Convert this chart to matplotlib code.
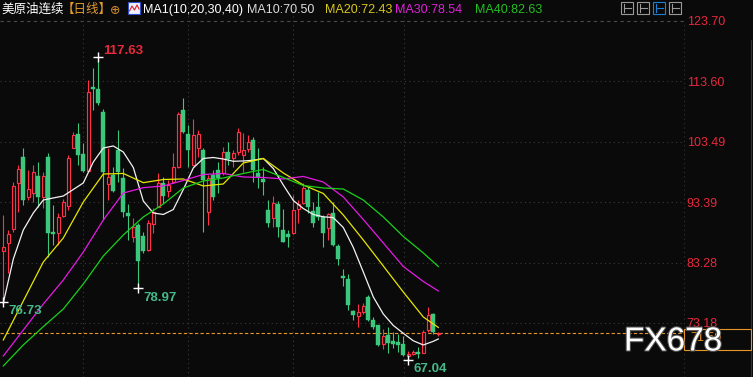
import numpy as np
import matplotlib
matplotlib.use("Agg")
import matplotlib.pyplot as plt
from matplotlib.patches import Rectangle
from matplotlib.lines import Line2D
import matplotlib.patheffects as pe

# 美原油连续 日线, values
opens = [85.27, 86.51, 88.85, 96.55, 101.00, 94.21, 94.97, 97.77, 94.21, 101.00,
         88.45, 88.18, 91.08, 92.80, 102.40, 104.80, 101.45, 98.66, 112.61, 112.27,
         108.48, 96.43, 97.94, 102.12, 97.38, 91.53, 87.61, 89.57, 87.73, 85.39,
         89.74, 92.63, 96.60, 95.31, 96.81, 99.32, 108.81, 104.80, 99.61, 102.45,
         102.12, 91.75, 97.94, 98.77, 98.27, 101.78, 100.78, 101.83, 101.28, 102.24,
         103.79, 98.32, 97.27, 92.08, 90.69, 93.08, 88.73, 88.07, 88.18, 92.20,
         93.20, 95.43, 91.96, 92.53, 90.86, 89.12, 91.58, 86.01, 80.99, 80.59,
         75.18, 74.30, 75.02, 77.53, 73.73, 72.79, 69.61, 71.12, 70.16, 70.00,
         69.61, 67.60, 68.04, 68.32, 68.16, 71.95, 74.63, 71.29]
highs = [91.24, 88.73, 96.81, 99.61, 102.40, 98.77, 99.61, 100.16, 98.49, 101.57,
         92.92, 91.53, 93.92, 101.28, 105.18, 106.59, 103.24, 113.83, 115.79, 117.63,
         108.98, 102.45, 99.32, 105.46, 99.06, 93.08, 90.69, 89.96, 88.45, 90.41,
         92.36, 98.22, 97.65, 97.10, 101.57, 108.53, 110.77, 106.30, 107.25, 105.46,
         102.40, 97.94, 98.77, 100.16, 102.62, 103.46, 102.12, 105.80, 104.96, 104.63,
         104.34, 102.45, 99.27, 93.75, 94.42, 93.64, 92.25, 88.73, 94.59, 93.75,
         96.65, 95.98, 93.47, 95.14, 91.24, 91.58, 93.42, 86.44, 82.26, 81.42,
         75.30, 76.40, 76.52, 77.81, 74.18, 72.85, 72.22, 72.51, 71.67, 71.39,
         70.95, 68.49, 68.71, 69.16, 72.05, 75.85, 74.85, 71.67]
lows = [76.73, 81.54, 88.45, 91.80, 92.92, 93.75, 93.47, 92.63, 92.36, 84.27,
        86.22, 86.22, 90.96, 92.08, 102.40, 99.61, 98.49, 98.49, 108.81, 109.65,
        90.41, 93.75, 95.14, 96.81, 90.96, 87.06, 86.78, 78.97, 84.84, 85.27,
        88.18, 92.50, 93.20, 94.31, 96.55, 99.06, 105.01, 99.22, 99.44, 100.90,
        88.45, 89.57, 93.75, 94.92, 97.94, 99.61, 99.27, 101.28, 98.44, 101.78,
        96.81, 95.76, 94.59, 89.29, 89.29, 87.61, 86.70, 85.94, 88.10, 89.91,
        93.08, 91.53, 89.29, 90.41, 85.84, 87.11, 86.10, 82.83, 79.31, 75.30,
        73.73, 72.51, 74.73, 73.51, 72.22, 69.28, 68.88, 68.16, 69.04, 68.32,
        67.60, 67.04, 67.77, 67.37, 68.10, 71.67, 71.29, 70.95]
closes = [85.81, 88.01, 96.10, 98.94, 93.75, 95.54, 98.49, 94.31, 97.77, 88.28,
          88.01, 90.86, 93.37, 100.83, 104.63, 101.28, 98.66, 111.87, 112.27, 110.03,
          98.44, 97.65, 95.31, 98.49, 91.80, 91.13, 89.19, 83.60, 85.27, 89.96,
          91.75, 96.65, 94.42, 96.26, 99.22, 108.14, 105.18, 102.12, 104.63, 104.74,
          97.10, 97.43, 94.31, 97.43, 101.78, 100.61, 101.62, 105.18, 102.12, 103.51,
          98.77, 97.55, 96.76, 89.96, 93.20, 89.19, 86.78, 87.51, 92.08, 93.08,
          95.71, 92.63, 89.96, 90.96, 88.28, 91.36, 86.17, 83.93, 80.75, 76.14,
          74.46, 75.02, 75.97, 73.73, 72.51, 69.44, 70.95, 69.83, 69.71, 69.44,
          67.77, 68.04, 68.32, 67.94, 71.67, 74.46, 71.67, 71.50]

# MA10 every 2 candles
ma10_idx = list(range(0, 88, 2)) + [87]
ma10 = [76.52, 83.88, 88.73, 91.58, 93.75, 94.09, 94.42, 95.51, 96.60, 100.11,
        102.45, 102.79, 101.78, 99.19, 93.59, 91.58, 91.33, 92.16, 95.51, 99.11,
        100.70, 100.86, 100.61, 100.23, 100.28, 100.40, 100.70, 99.02, 96.26, 93.67,
        92.33, 91.33, 90.94, 90.81, 89.15, 85.81, 81.71, 77.53, 74.68, 72.76,
        71.45, 70.20, 69.50, 70.11, 70.50]

# the slower averages read every 4 candles
ma_idx = list(range(0, 88, 4)) + [87]
ma20 = [70.33, 76.86, 83.38, 87.40, 93.42, 98.10, 98.19, 96.65, 97.18, 97.27, 96.10, 96.43,
        99.94, 100.70, 98.27, 96.26, 94.84, 91.24, 87.06, 82.71, 78.36, 74.18, 72.43]
ma30 = [67.65, 72.00, 76.35, 80.37, 85.05, 90.41, 94.92, 95.81, 96.10, 97.02, 98.02, 98.19,
        97.60, 97.52, 97.27, 97.69, 96.76, 94.26, 90.49, 86.56, 82.63, 80.12, 78.54]
ma40 = [65.98, 69.50, 72.56, 75.52, 79.70, 84.38, 87.90, 90.91, 93.08, 95.76, 96.93, 97.43,
        98.19, 98.86, 97.52, 96.18, 95.76, 95.59, 93.75, 90.91, 87.65, 84.89, 82.63]

price_ticks = [123.70, 113.60, 103.49, 93.39, 83.28, 73.18]
month_lines = [15.9, 37.0, 58.0, 80.1]

BG = "#0a0a0a"
RED = "#ff3048"
GREEN = "#3cc87c"
W, H = 753, 377

plt.rcParams['font.family'] = ['Liberation Sans', 'Noto Sans CJK SC', 'DejaVu Sans']

fig = plt.figure(figsize=(W / 100, H / 100), dpi=100, facecolor=BG)
ax = fig.add_axes([0, 0, 684 / W, 1], facecolor=BG)
ax.set_xlim(-0.66, 136.14)
ax.set_ylim(64.14, 127.21)
for s in ax.spines.values():
    s.set_visible(False)
ax.set_xticks([])
ax.set_yticks(price_ticks)
ax.set_yticklabels([f"{v:.2f}" for v in price_ticks])
ax.yaxis.tick_right()
ax.tick_params(axis='y', length=0, pad=2, labelcolor="#e8283c", labelsize=9)

# grid
ax.axhline(price_ticks[0], color="#4a4a4a", lw=0.8, ls=(0, (3, 3)), zorder=1)
for p in price_ticks[1:]:
    ax.axhline(p, color="#3a3a3a", lw=0.8, ls=(0, (1, 3)), zorder=1)
for m in month_lines:
    ax.axvline(m, color="#3a3a3a", lw=0.8, ls=(0, (1, 3)), zorder=1)

# candles
for i in range(len(closes)):
    o, h, l, c = opens[i], highs[i], lows[i], closes[i]
    up = c >= o
    col = RED if up else GREEN
    ax.vlines(i, l, h, color=col, lw=0.8, zorder=3)
    bottom = min(o, c)
    height = max(abs(c - o), 0.15)
    if up:
        ax.add_patch(Rectangle((i - 0.3, bottom), 0.6, height, facecolor=BG,
                               edgecolor=col, lw=0.85, zorder=4))
    else:
        ax.add_patch(Rectangle((i - 0.37, bottom), 0.74, height, facecolor=col,
                               edgecolor=col, lw=0.3, zorder=4))

# moving averages
ax.plot(ma10_idx, ma10, color="#f2f2f2", lw=0.9, zorder=5)
ax.plot(ma_idx, ma20, color="#e6e600", lw=0.9, zorder=5)
ax.plot(ma_idx, ma30, color="#e619e6", lw=0.9, zorder=5)
ax.plot(ma_idx, ma40, color="#19d219", lw=0.9, zorder=5)

# last price line
ax.axhline(closes[-1], color="#e8962a", lw=0.8, ls=(0, (3, 2)), zorder=2)

# high / low markers
hi = int(np.argmax(highs))
marks = [(hi, highs[hi], "#e8283c", 6.6)]
for j in [0, 27, int(np.argmin(lows))]:
    marks.append((j, lows[j], "#44b98c", -9.6))
for j, v, col, dy in marks:
    ax.plot(j, v, marker='+', ms=7, mew=1, color="white", zorder=6)
    ax.annotate(f"{v:.2f}", (j, v), xytext=(5, dy), textcoords="offset pixels",
                color=col, fontsize=9.5, fontweight="bold", va="center", ha="left",
                zorder=7)


def fx(x):
    return x / W


def fy(y):
    return 1 - y / H


# header
hdr = 9.0
fig.text(fx(1.5), fy(10), "美原油连续", color="white", fontsize=9, va="center")
fig.text(fx(61.5), fy(10), "【日线】", color="#e09a30", fontsize=9, va="center")
fig.text(fx(110), fy(10.5), "⊕", color="#d08a30", fontsize=9, va="center",
         family="DejaVu Sans")
fig.add_artist(Rectangle((fx(128), fy(14)), 12 / W, 12 / H, transform=fig.transFigure,
                         facecolor="#f0f0ff", edgecolor="#3050d0", lw=0.8))
fig.add_artist(Line2D([fx(129.5), fx(132), fx(134.5), fx(137), fx(139)],
                      [fy(11), fy(6), fy(10), fy(5), fy(9)], transform=fig.transFigure,
                      color="#e02020", lw=0.8))
fig.text(fx(142.5), fy(10), "MA1(10,20,30,40)", color="white", fontsize=hdr, va="center")
fig.text(fx(247), fy(10), "MA10:70.50", color="#dcdcdc", fontsize=hdr, va="center")
fig.text(fx(325), fy(10), "MA20:72.43", color="#d8c81c", fontsize=hdr, va="center")
fig.text(fx(395), fy(10), "MA30:78.54", color="#e020d8", fontsize=hdr, va="center")
fig.text(fx(475), fy(10), "MA40:82.63", color="#22c022", fontsize=hdr, va="center")

# toolbar buttons (top right)
for k, x0 in enumerate([620.7, 636.7, 652.7, 668.7]):
    ec = "#1e7fd6" if k == 2 else "#9a9a9a"
    fig.add_artist(Rectangle((fx(x0), fy(14)), 12.5 / W, 12.3 / H, transform=fig.transFigure,
                             facecolor=BG, edgecolor=ec, lw=0.8))
    fig.add_artist(Line2D([fx(x0 + 3), fx(x0 + 3)], [fy(11.5), fy(4)],
                          transform=fig.transFigure, color=ec, lw=0.8))
    fig.add_artist(Line2D([fx(x0 + 3), fx(x0 + 10)], [fy(8), fy(8)],
                          transform=fig.transFigure, color=ec, lw=0.8))

# right axis frame
fig.add_artist(Line2D([fx(684), fx(684)], [0, fy(22)], transform=fig.transFigure,
                      color="#333333", lw=0.8, ls=(0, (1, 3))))
fig.add_artist(Line2D([fx(751), fx(751)], [0, fy(40)], transform=fig.transFigure,
                      color="#333333", lw=0.8))

# current price box
fig.add_artist(Rectangle((fx(684), fy(350)), 67 / W, 21 / H, transform=fig.transFigure,
                         facecolor=BG, edgecolor="#e8962a", lw=0.8, zorder=8))
fig.text(fx(690), fy(338), f"{closes[-1]:.2f}", color="#e8962a", fontsize=9,
         va="center", zorder=9)

# watermark
fig.text(fx(624), fy(342), "FX678", color="white", fontsize=24, va="center", zorder=10,
         path_effects=[pe.withStroke(linewidth=1.5, foreground="#555555")])

fig.savefig("out.png", dpi=100, facecolor=BG)
